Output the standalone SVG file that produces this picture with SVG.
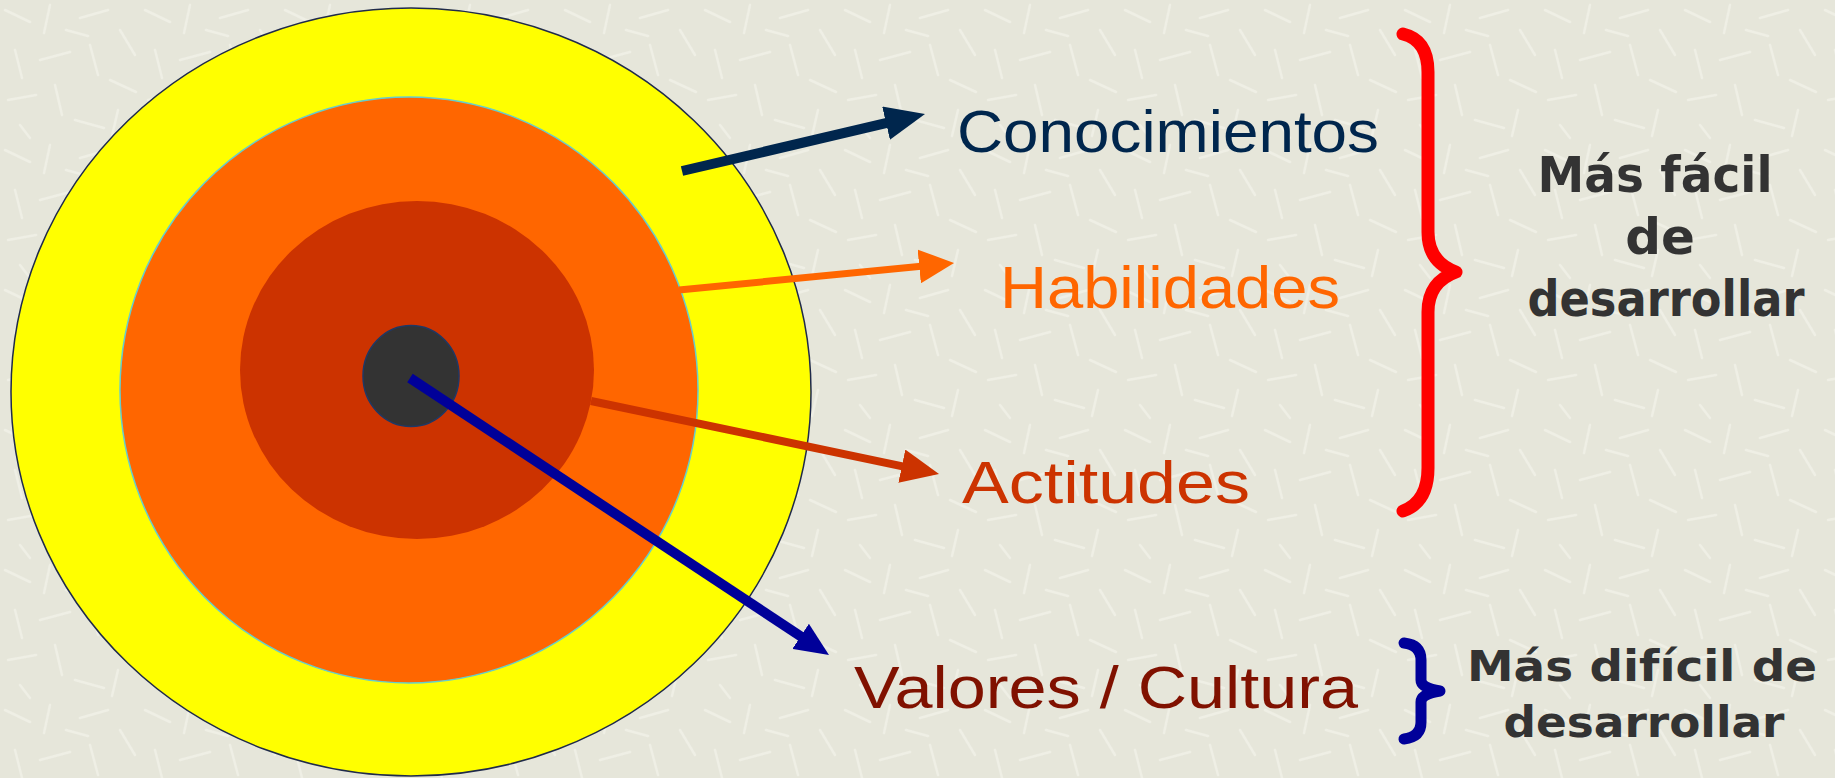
<svg xmlns="http://www.w3.org/2000/svg" width="1835" height="778" viewBox="0 0 1835 778">
<defs>
<pattern id="tex" width="140" height="140" patternUnits="userSpaceOnUse">
<rect width="140" height="140" fill="#E6E6DA"/>
<g stroke="#F1F1E8" stroke-width="2.5" stroke-linecap="round" opacity="0.8">
<line x1="5" y1="10" x2="30" y2="22"/><line x1="50" y1="5" x2="44" y2="33"/><line x1="80" y1="18" x2="108" y2="10"/>
<line x1="120" y1="30" x2="135" y2="55"/><line x1="15" y1="50" x2="22" y2="78"/><line x1="40" y1="60" x2="70" y2="52"/>
<line x1="90" y1="45" x2="98" y2="75"/><line x1="110" y1="80" x2="136" y2="92"/><line x1="8" y1="100" x2="36" y2="95"/>
<line x1="55" y1="85" x2="62" y2="115"/><line x1="75" y1="120" x2="104" y2="128"/><line x1="20" y1="125" x2="30" y2="138"/>
<line x1="118" y1="110" x2="112" y2="136"/><line x1="66" y1="30" x2="88" y2="36"/>
</g>
</pattern>
<marker id="hNavy" viewBox="0 0 40 34" refX="2" refY="17" markerWidth="40" markerHeight="34" markerUnits="userSpaceOnUse" orient="auto"><path d="M0,0 L40,17 L0,34 z" fill="#00264D"/></marker>
<marker id="hOrange" viewBox="0 0 35 34" refX="2" refY="17" markerWidth="35" markerHeight="34" markerUnits="userSpaceOnUse" orient="auto"><path d="M0,0 L35,17 L0,34 z" fill="#FF6600"/></marker>
<marker id="hRust" viewBox="0 0 38 34" refX="2" refY="17" markerWidth="38" markerHeight="34" markerUnits="userSpaceOnUse" orient="auto"><path d="M0,0 L38,17 L0,34 z" fill="#CC3300"/></marker>
<marker id="hBlue" viewBox="0 0 34 30" refX="2" refY="15" markerWidth="34" markerHeight="30" markerUnits="userSpaceOnUse" orient="auto"><path d="M0,0 L34,15 L0,30 z" fill="#000099"/></marker>
</defs>
<style>
.lbl{font-family:"Liberation Sans","DejaVu Sans",sans-serif;font-size:60px;}
.note{font-family:"DejaVu Sans","Liberation Sans",sans-serif;font-weight:bold;font-size:50px;fill:#333333;text-anchor:middle;}
.note2{font-size:42px;}
.conn{fill:none;}
</style>
<rect width="1835" height="778" fill="url(#tex)"/>

<g id="ring-valores">
<ellipse cx="411" cy="392" rx="400" ry="384" fill="#FFFF00" stroke="#1F2A4A" stroke-width="1.5"/>
</g>
<g id="ring-habilidades">
<ellipse cx="409" cy="390" rx="289" ry="293" fill="#FF6600" stroke="#66CCCC" stroke-width="1.5"/>
</g>
<g id="ring-actitudes">
<ellipse cx="417" cy="370" rx="177" ry="169" fill="#CC3300"/>
</g>
<g id="core">
<ellipse cx="411" cy="376" rx="48" ry="50.5" fill="#333333" stroke="#1F3864" stroke-width="1.5"/>
</g>

<g id="connectors" class="conn">
<line x1="682" y1="171" x2="888" y2="122.7" stroke="#00264D" stroke-width="10" marker-end="url(#hNavy)"/>
<line x1="679" y1="290" x2="921.2" y2="266.2" stroke="#FF6600" stroke-width="7" marker-end="url(#hOrange)"/>
<line x1="591" y1="401" x2="903.8" y2="466.6" stroke="#CC3300" stroke-width="8" marker-end="url(#hRust)"/>
<line x1="410" y1="378" x2="802.3" y2="637.4" stroke="#000099" stroke-width="10" marker-end="url(#hBlue)"/>
</g>

<g id="label-conocimientos"><text class="lbl" x="957" y="152" fill="#00264D" textLength="422" lengthAdjust="spacingAndGlyphs">Conocimientos</text></g>
<g id="label-habilidades"><text class="lbl" x="1000" y="308" fill="#FF6600" textLength="340" lengthAdjust="spacingAndGlyphs">Habilidades</text></g>
<g id="label-actitudes"><text class="lbl" x="962" y="503" fill="#CC3300" textLength="288" lengthAdjust="spacingAndGlyphs">Actitudes</text></g>
<g id="label-valores"><text class="lbl" x="854" y="708" fill="#801100" textLength="504" lengthAdjust="spacingAndGlyphs">Valores / Cultura</text></g>

<g id="brace-facil">
<path d="M1403,34 Q1428,40 1428,72 L1428,232 Q1428,262 1456,272 Q1428,282 1428,312 L1428,468 Q1428,502 1403,511" fill="none" stroke="#FF0000" stroke-width="13" stroke-linecap="round" stroke-linejoin="round"/>
</g>
<g id="note-facil">
<text class="note" x="1655" y="192" textLength="235" lengthAdjust="spacingAndGlyphs">Más fácil</text>
<text class="note" x="1660" y="254">de</text>
<text class="note" x="1666" y="316" textLength="277" lengthAdjust="spacingAndGlyphs">desarrollar</text>
</g>

<g id="brace-dificil">
<path d="M1404,643 Q1421,645 1421,660 L1421,680 Q1421,688 1440,691 Q1421,694 1421,702 L1421,722 Q1421,737 1404,739" fill="none" stroke="#000099" stroke-width="11" stroke-linecap="round" stroke-linejoin="round"/>
</g>
<g id="note-dificil">
<text class="note note2" x="1642" y="681" textLength="350" lengthAdjust="spacingAndGlyphs">Más difícil de</text>
<text class="note note2" x="1644" y="737" textLength="281" lengthAdjust="spacingAndGlyphs">desarrollar</text>
</g>
</svg>
